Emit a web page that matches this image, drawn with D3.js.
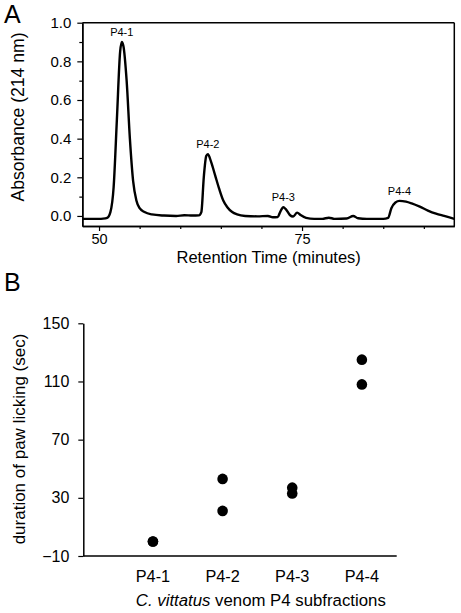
<!DOCTYPE html>
<html>
<head>
<meta charset="utf-8">
<script src="https://cdn.jsdelivr.net/npm/d3@7"></script>
<style>
  html, body { margin: 0; padding: 0; background: #fff; }
  svg { display: block; font-family: Arial, "Liberation Sans", Helvetica, sans-serif; }
</style>
</head>
<body>
<svg id="chart" width="461" height="613"></svg>
<script>
// ---------- Panel A data: chromatogram (retention time in minutes, absorbance at 214 nm) ----------
const retentionTime = [47.9, 49, 50, 50.5, 51, 51.4, 51.8, 52.2, 52.6, 52.8, 53.0, 53.4, 53.8, 54.2, 54.6, 55, 55.6, 56.5, 58, 59.5,
  60.5, 61.5, 62.3, 62.6, 62.9, 63.2, 63.4, 63.8, 64.3, 64.8, 65.3, 65.8, 66.4, 67, 68, 69.5, 70.8, 71.4, 72.0, 72.3,
  72.7, 73.0, 73.5, 73.9, 74.4, 74.8, 75.5, 76.5, 77.5, 78.3, 79, 80.5, 81.3, 81.9, 83, 85, 85.6, 86, 86.5, 87,
  87.8, 88.5, 89.5, 90.5, 91.5, 92.5, 93.75];
const absorbance = [-0.015, -0.015, -0.015, -0.014, -0.01, 0.02, 0.15, 0.5, 0.85, 0.90, 0.88, 0.70, 0.40, 0.18, 0.08, 0.04, 0.02, 0.008, 0.002, 0.0,
  0.004, 0.002, 0.003, 0.02, 0.2, 0.31, 0.32, 0.28, 0.21, 0.14, 0.08, 0.045, 0.02, 0.008, 0.0, -0.002, 0.0, -0.007, -0.006, 0.02,
  0.045, 0.035, 0.005, -0.003, 0.017, 0.005, -0.01, -0.015, -0.015, -0.009, -0.015, -0.013, 0.0, -0.012, -0.015, -0.015, -0.01, 0.04, 0.07, 0.078,
  0.074, 0.065, 0.048, 0.028, 0.012, 0.0, -0.015];
const peakLabels = ["P4-1", "P4-2", "P4-3", "P4-4"];
const peakTimes = [52.8, 63.4, 72.7, 87.0];
const peakHeights = [0.90, 0.32, 0.045, 0.078];
const xMajorTicksA = [50, 75];
const xMinorTicksA = [55, 60, 65, 70, 80, 85, 90];
const yMajorTicksA = [0.0, 0.2, 0.4, 0.6, 0.8, 1.0];
const yMinorTicksA = [0.1, 0.3, 0.5, 0.7, 0.9];

// ---------- Panel B data: duration of paw licking (sec) ----------
const subfractions = ["P4-1", "P4-2", "P4-3", "P4-4"];
const lickingRep1 = [0, 43, 37, 125];
const lickingRep2 = [0, 21, 33, 108];
const yTicksB = [-10, 30, 70, 110, 150];

const svg = d3.select("#chart");

// ================= Panel A =================
const xA = d3.scaleLinear().domain([47.94, 93.75]).range([82.3, 454.3]);
const yA = d3.scaleLinear().domain([-0.052, 1.0]).range([226, 22.7]);

const gA = svg.append("g");

// frame top & right
gA.append("line").attr("x1", xA.range()[0]).attr("x2", xA.range()[1]).attr("y1", yA.range()[1]).attr("y2", yA.range()[1])
  .attr("stroke", "#000").attr("stroke-width", 1.5);
gA.append("line").attr("x1", xA.range()[1]).attr("x2", xA.range()[1]).attr("y1", yA.range()[0]).attr("y2", yA.range()[1])
  .attr("stroke", "#000").attr("stroke-width", 1.5);

function styleAxis(g, fs) {
  g.select(".domain").attr("stroke", "#000").attr("stroke-width", 1.5);
  g.selectAll(".tick line").attr("stroke", "#000").attr("stroke-width", 1.2);
  g.selectAll(".tick text").attr("fill", "#000").attr("font-size", fs).attr("font-family", null);
}

const yAxisA = gA.append("g").attr("transform", `translate(${xA.range()[0]},0)`)
  .call(d3.axisLeft(yA).tickValues(yMajorTicksA).tickFormat(d3.format(".1f")).tickSize(5).tickSizeOuter(0).tickPadding(6));
styleAxis(yAxisA, 15);
const yAxisAminor = gA.append("g").attr("transform", `translate(${xA.range()[0]},0)`)
  .call(d3.axisLeft(yA).tickValues(yMinorTicksA).tickFormat("").tickSize(3).tickSizeOuter(0));
styleAxis(yAxisAminor, 15);

const xAxisA = gA.append("g").attr("transform", `translate(0,${yA.range()[0]})`)
  .call(d3.axisBottom(xA).tickValues(xMajorTicksA).tickFormat(d3.format("d")).tickSize(5).tickSizeOuter(0).tickPadding(3));
styleAxis(xAxisA, 14.5);
const xAxisAminor = gA.append("g").attr("transform", `translate(0,${yA.range()[0]})`)
  .call(d3.axisBottom(xA).tickValues(xMinorTicksA).tickFormat("").tickSize(3).tickSizeOuter(0));
styleAxis(xAxisAminor, 15);

// chromatogram
const chrom = retentionTime.map((t, i) => [t, absorbance[i]]);
gA.append("path")
  .datum(chrom)
  .attr("fill", "none")
  .attr("stroke", "#000")
  .attr("stroke-width", 2.4)
  .attr("stroke-linejoin", "round")
  .attr("d", d3.line().x(d => xA(d[0])).y(d => yA(d[1])).curve(d3.curveMonotoneX));

// peak labels
gA.selectAll("text.peak").data(peakLabels).enter().append("text")
  .attr("class", "peak")
  .attr("x", (d, i) => xA(peakTimes[i]))
  .attr("y", (d, i) => yA(peakHeights[i]) - 6)
  .attr("text-anchor", "middle")
  .attr("font-size", 11)
  .text(d => d);

// axis titles
gA.append("text").attr("x", 268.7).attr("y", 262.5).attr("text-anchor", "middle").attr("font-size", 16.5)
  .text("Retention Time (minutes)");
gA.append("text").attr("transform", "translate(23.5,117) rotate(-90)").attr("text-anchor", "middle").attr("font-size", 17.6)
  .text("Absorbance (214 nm)");
svg.append("text").attr("x", 4).attr("y", 23.3).attr("font-size", 25).text("A");

// ================= Panel B =================
const xB = d3.scaleLinear().domain([0, 4.5]).range([83.3, 396.7]);
const yB = d3.scaleLinear().domain([-10, 150]).range([556, 323.3]);
const gB = svg.append("g");

const yAxisB = gB.append("g").attr("transform", `translate(${xB.range()[0]},0)`)
  .call(d3.axisLeft(yB).tickValues(yTicksB).tickFormat(d3.format("d")).tickSize(5).tickSizeOuter(0).tickPadding(9));
styleAxis(yAxisB, 16);
gB.append("line").attr("x1", xB.range()[0]).attr("x2", xB.range()[1]).attr("y1", yB.range()[0]).attr("y2", yB.range()[0])
  .attr("stroke", "#000").attr("stroke-width", 1.5);

// category labels
gB.selectAll("text.cat").data(subfractions).enter().append("text")
  .attr("class", "cat")
  .attr("x", (d, i) => xB(i + 1))
  .attr("y", 581.7)
  .attr("text-anchor", "middle")
  .attr("font-size", 16.3)
  .text(d => d);

// points
const pts = [];
subfractions.forEach((s, i) => {
  pts.push({ i, v: lickingRep1[i] });
  pts.push({ i, v: lickingRep2[i] });
});
gB.selectAll("circle").data(pts).enter().append("circle")
  .attr("cx", d => xB(d.i + 1))
  .attr("cy", d => yB(d.v))
  .attr("r", 5.3)
  .attr("fill", "#000");

// titles
const xt = gB.append("text").attr("x", 260.8).attr("y", 606).attr("text-anchor", "middle").attr("font-size", 16.8);
xt.append("tspan").attr("font-style", "italic").text("C. vittatus");
xt.append("tspan").text(" venom P4 subfractions");
gB.append("text").attr("transform", "translate(24.5,439) rotate(-90)").attr("text-anchor", "middle").attr("font-size", 17)
  .text("duration of paw licking (sec)");
svg.append("text").attr("x", 4).attr("y", 290.7).attr("font-size", 25).text("B");
</script>
</body>
</html>
